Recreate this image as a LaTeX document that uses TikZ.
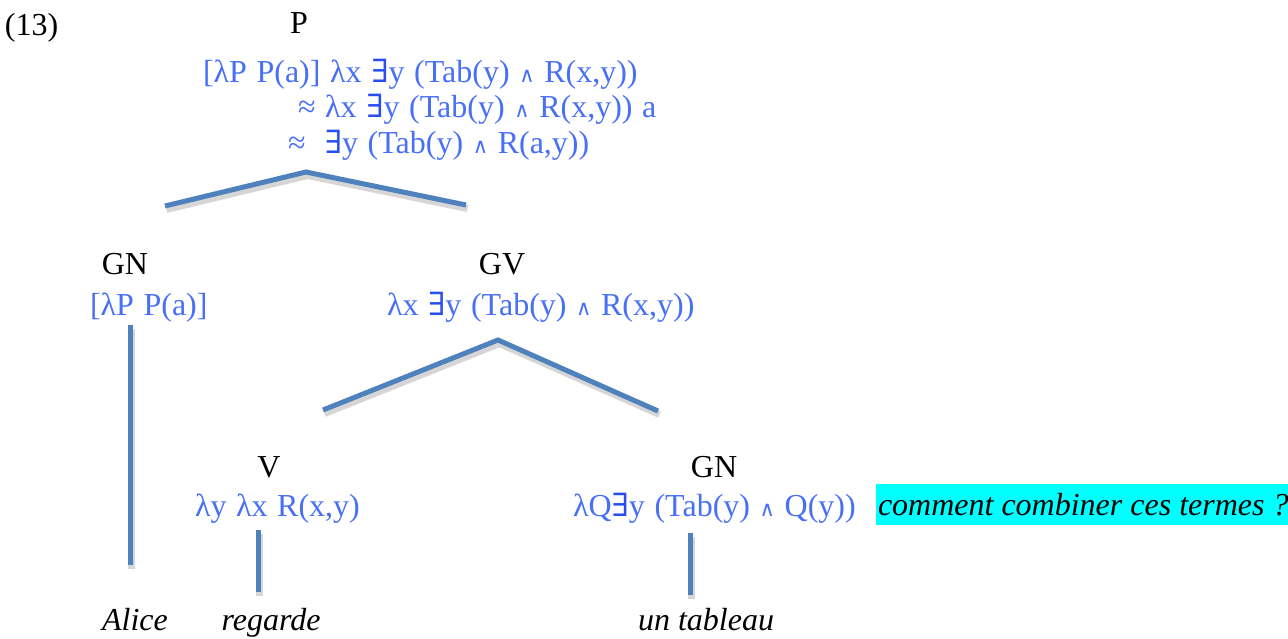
\documentclass[tikz,border=0pt]{standalone}
\usepackage{fontspec}
\setmainfont{Liberation Serif}
\newfontfamily\symf{DejaVu Serif}
\usetikzlibrary{calc}
\definecolor{tblue}{RGB}{72,112,246}
\definecolor{exblue}{RGB}{40,78,240}
\definecolor{lineblue}{RGB}{79,129,189}
\definecolor{notebg}{RGB}{0,255,255}
\newcommand{\Ex}{{\color{exblue}\symf ∃}}
\newcommand{\Et}{{\symf\fontsize{21}{21}\selectfont ∧}}
\newcommand{\semfont}{\fontsize{32}{34}\selectfont\setlength{\spaceskip}{0.3em}}
\tikzset{
  every node/.style={inner sep=0pt, outer sep=0pt, font=\fontsize{32}{34}\selectfont},
  lbl/.style={anchor=base, text=black},
  sem/.style={anchor=base west, text=tblue, font=\semfont},
  word/.style={anchor=base, text=black, font=\fontsize{32}{34}\selectfont\itshape},
  branch/.style={draw=lineblue, line width=5pt,
    preaction={draw=black, opacity=0.16, line width=7pt,
      transform canvas={xshift=1.5pt, yshift=-3.5pt}}},
}
\begin{document}
\begin{tikzpicture}[x=1pt, y=-1pt]
\useasboundingbox (0,0) rectangle (1288,639);
% header
\node[anchor=base west, text=black] (n13) at (5,36) {(13)};
\node[lbl] (P) at (299,34) {P};
\node[sem] (Psem1) at (203,83) {[λP P(a)] λx \Ex y (Tab(y) \Et{} R(x,y))};
\node[sem] (Psem2) at (298,118) {≈ λx \Ex y (Tab(y) \Et{} R(x,y)) a};
\node[sem] (Psem3) at (288,154) {≈ \ \Ex y (Tab(y) \Et{} R(a,y))};
% top branches
\coordinate (Ptop) at (306,172);
\coordinate (PL) at (165,206);
\coordinate (PR) at (466,205);
\draw[branch] (PL) -- (Ptop) -- (PR);
% GN / GV
\node[lbl] (GN) at (125,275) {GN};
\node[sem] (GNsem) at (90,315) {[λP P(a)]};
\node[lbl] (GV) at (502,275) {GV};
\node[sem] (GVsem) at (387,315) {λx \Ex y (Tab(y) \Et{} R(x,y))};
% GN vertical
\coordinate (GNt) at (130,325);
\coordinate (GNb) at (130,565);
\draw[branch] (GNt) -- (GNb);
% GV branches
\coordinate (GVtop) at (498,340);
\coordinate (GVL) at (323,410);
\coordinate (GVR) at (658,411);
\draw[branch] (GVL) -- (GVtop) -- (GVR);
% V / GN2
\node[lbl] (V) at (269,477) {V};
\node[sem] (Vsem) at (195,516) {λy λx R(x,y)};
\node[lbl] (GN2) at (714,477) {GN};
\node[sem] (GN2sem) at (573,516) {λQ\Ex y (Tab(y) \Et{} Q(y))};
\node[anchor=west, fill=notebg, minimum height=41pt, inner xsep=2pt,
      font=\fontsize{32}{34}\selectfont\itshape] (note) at (876,504.5) {comment combiner ces termes ?};
% verticals
\coordinate (Vt) at (258,530);
\coordinate (Vb) at (258,592);
\draw[branch] (Vt) -- (Vb);
\coordinate (Nt) at (690,533);
\coordinate (Nb) at (690,595);
\draw[branch] (Nt) -- (Nb);
% words
\node[word] (alice) at (135,630) {Alice};
\node[word] (regarde) at (271,630) {regarde};
\node[word] (tableau) at (706,630) {un tableau};
\end{tikzpicture}
\end{document}
